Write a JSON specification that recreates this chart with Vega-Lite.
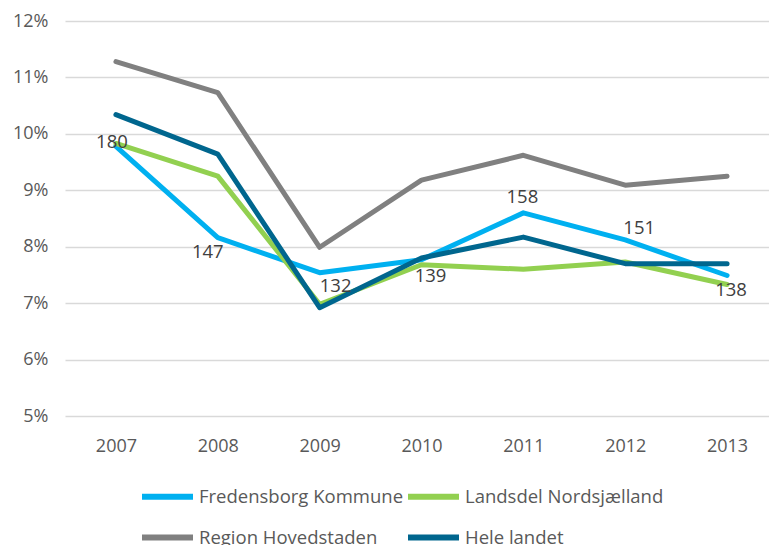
{
  "$schema": "https://vega.github.io/schema/vega-lite/v6.json",
  "autosize": {"type": "none"},
  "width": 713,
  "height": 395,
  "padding": {"left": 65, "top": 21, "right": 0, "bottom": 129},
  "background": "#ffffff",
  "config": {
    "view": {"stroke": null},
    "font": "Open Sans",
    "axis": {"labelFont": "Open Sans", "labelColor": "#595959", "labelFontSize": 18, "ticks": false, "domain": false, "title": null},
    "legend": {"labelFont": "Open Sans", "labelColor": "#595959", "labelFontSize": 18.5, "labelLimit": 400}
  },
  "data": {
    "values": [
      {"year": "2007", "series": "Fredensborg Kommune", "v": 0.0978, "n": "180"},
      {"year": "2008", "series": "Fredensborg Kommune", "v": 0.0816, "n": "147"},
      {"year": "2009", "series": "Fredensborg Kommune", "v": 0.0754, "n": "132"},
      {"year": "2010", "series": "Fredensborg Kommune", "v": 0.0777, "n": "139"},
      {"year": "2011", "series": "Fredensborg Kommune", "v": 0.0860, "n": "158"},
      {"year": "2012", "series": "Fredensborg Kommune", "v": 0.0812, "n": "151"},
      {"year": "2013", "series": "Fredensborg Kommune", "v": 0.0749, "n": "138"},
      {"year": "2007", "series": "Landsdel Nordsjælland", "v": 0.0983},
      {"year": "2008", "series": "Landsdel Nordsjælland", "v": 0.0925},
      {"year": "2009", "series": "Landsdel Nordsjælland", "v": 0.0698},
      {"year": "2010", "series": "Landsdel Nordsjælland", "v": 0.0768},
      {"year": "2011", "series": "Landsdel Nordsjælland", "v": 0.0760},
      {"year": "2012", "series": "Landsdel Nordsjælland", "v": 0.0773},
      {"year": "2013", "series": "Landsdel Nordsjælland", "v": 0.0733},
      {"year": "2007", "series": "Region Hovedstaden", "v": 0.1128},
      {"year": "2008", "series": "Region Hovedstaden", "v": 0.1073},
      {"year": "2009", "series": "Region Hovedstaden", "v": 0.0799},
      {"year": "2010", "series": "Region Hovedstaden", "v": 0.0918},
      {"year": "2011", "series": "Region Hovedstaden", "v": 0.0962},
      {"year": "2012", "series": "Region Hovedstaden", "v": 0.0909},
      {"year": "2013", "series": "Region Hovedstaden", "v": 0.0925},
      {"year": "2007", "series": "Hele landet", "v": 0.1034},
      {"year": "2008", "series": "Hele landet", "v": 0.0964},
      {"year": "2009", "series": "Hele landet", "v": 0.0692},
      {"year": "2010", "series": "Hele landet", "v": 0.0780},
      {"year": "2011", "series": "Hele landet", "v": 0.0817},
      {"year": "2012", "series": "Hele landet", "v": 0.0770},
      {"year": "2013", "series": "Hele landet", "v": 0.0770}
    ]
  },
  "encoding": {
    "x": {"field": "year", "type": "ordinal", "scale": {"paddingOuter": 0.5},
      "axis": {"labelAngle": 0, "labelPadding": 21, "grid": false}},
    "y": {"field": "v", "type": "quantitative",
      "scale": {"domain": [0.05, 0.12], "nice": false, "zero": false},
      "axis": {"format": ".0%", "values": [0.05, 0.06, 0.07, 0.08, 0.09, 0.10, 0.11, 0.12], "labelPadding": 17, "grid": true, "gridColor": "#d9d9d9", "gridWidth": 1.5}}
  },
  "layer": [
    {
      "mark": {"type": "line", "strokeWidth": 5, "strokeJoin": "round", "strokeCap": "round"},
      "encoding": {
        "color": {"field": "series", "type": "nominal",
          "scale": {"domain": ["Fredensborg Kommune", "Landsdel Nordsjælland", "Region Hovedstaden", "Hele landet"],
                    "range": ["#00b0f0", "#92d050", "#808080", "#00668e"]},
          "legend": {"title": null, "orient": "none", "legendX": 74, "legendY": 447, "direction": "horizontal", "columns": 2,
            "symbolType": "stroke", "symbolSize": 2601, "symbolStrokeWidth": 6, "labelOffset": 3, "columnPadding": -8, "rowPadding": 0}}
      }
    },
    {"transform": [{"filter": "datum.year == '2007' && datum.n"}], "mark": {"type": "text", "fontSize": 18.5, "color": "#404040", "dx": -4, "dy": -4, "baseline": "middle"}, "encoding": {"text": {"field": "n"}}},
    {"transform": [{"filter": "datum.year == '2008' && datum.n"}], "mark": {"type": "text", "fontSize": 18.5, "color": "#404040", "dx": -10, "dy": 14, "baseline": "middle"}, "encoding": {"text": {"field": "n"}}},
    {"transform": [{"filter": "datum.year == '2009' && datum.n"}], "mark": {"type": "text", "fontSize": 18.5, "color": "#404040", "dx": 16, "dy": 13, "baseline": "middle"}, "encoding": {"text": {"field": "n"}}},
    {"transform": [{"filter": "datum.year == '2010' && datum.n"}], "mark": {"type": "text", "fontSize": 18.5, "color": "#404040", "dx": 9, "dy": 16, "baseline": "middle"}, "encoding": {"text": {"field": "n"}}},
    {"transform": [{"filter": "datum.year == '2011' && datum.n"}], "mark": {"type": "text", "fontSize": 18.5, "color": "#404040", "dx": -1, "dy": -16, "baseline": "middle"}, "encoding": {"text": {"field": "n"}}},
    {"transform": [{"filter": "datum.year == '2012' && datum.n"}], "mark": {"type": "text", "fontSize": 18.5, "color": "#404040", "dx": 14, "dy": -12, "baseline": "middle"}, "encoding": {"text": {"field": "n"}}},
    {"transform": [{"filter": "datum.year == '2013' && datum.n"}], "mark": {"type": "text", "fontSize": 18.5, "color": "#404040", "dx": 4, "dy": 15, "baseline": "middle"}, "encoding": {"text": {"field": "n"}}}
  ]
}
